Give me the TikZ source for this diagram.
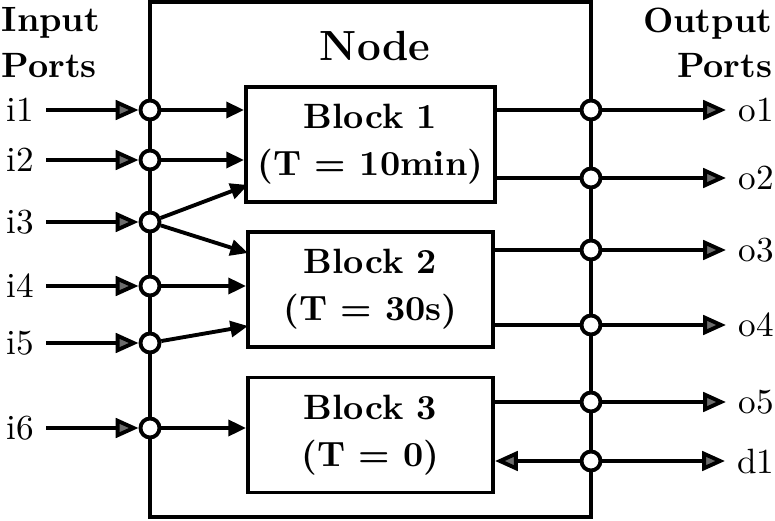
\documentclass[tikz,border=0pt]{standalone}
\usepackage{amsmath}
\usepackage{tikz}
\usetikzlibrary{arrows.meta}

\begin{document}
\begin{tikzpicture}[x = 0.01cm, y = -0.01cm,
    wire/.style = { line width = 1.1pt },
    port/.style = { draw, circle, fill = white, line width = 1.1pt, inner sep = 0pt, minimum size = 0.19cm },
    block/.style = { draw, line width = 1.1pt, minimum width = 2.45cm, minimum height = 1.15cm, align = center, font = \bfseries },
    inarrow/.style = { wire, -{Triangle[length = 6.5pt, width = 5.5pt, fill = gray!85!black]} },
    blkarrow/.style = { wire, -{Triangle[length = 5pt, width = 4.5pt]} }]
    \useasboundingbox (0,0) rectangle (775,521);

    \node [draw, line width = 1.1pt, minimum width = 4.41cm, minimum height = 5.15cm] (frame) at (370.5,259.5) {};
    \node [font = \large\bfseries] (title) at (375,46) {Node};
    \node [anchor = north west, align = left, inner sep = 0pt, font = \bfseries] (inports) at (1,7) {Input \\[1pt] Ports};
    \node [anchor = north east, align = right, inner sep = 0pt, font = \bfseries] (outports) at (773,7) {Output \\[1pt] Ports};

    \node [block] (b1) at (370.5,144.5) { Block 1 \\[1.4pt] (T = 10min) };
    \node [block] (b2) at (370.5,289.5) { Block 2 \\[1.4pt] (T = 30s) };
    \node [block] (b3) at (370.5,435) { Block 3 \\[1.4pt] (T = 0) };

    \foreach \n/\y in {1/110, 2/160, 3/222, 4/286, 5/343, 6/428} {
      \node [port] (pi\n) at (150,\y) {};
      \node (li\n) at (20,\y) {i\n};
      \draw [inarrow] (li\n) -- (pi\n);
    }

    \coordinate (b1i3) at (248,185);
    \coordinate (b2i3) at (248,253);
    \coordinate (b2i5) at (248,326);
    \draw [blkarrow] (pi1) -- (pi1 -| b1.west);
    \draw [blkarrow] (pi2) -- (pi2 -| b1.west);
    \draw [blkarrow] (pi3) -- (b1i3);
    \draw [blkarrow] (pi3) -- (b2i3);
    \draw [blkarrow] (pi4) -- (pi4 -| b2.west);
    \draw [blkarrow] (pi5) -- (b2i5);
    \draw [blkarrow] (pi6) -- (pi6 -| b3.west);

    \foreach \n/\y/\b in {o1/110/b1, o2/178/b1, o3/250/b2, o4/325/b2, o5/402/b3} {
      \node [port] (p\n) at (591,\y) {};
      \node (l\n) at (756,\y) {\n};
      \draw [wire] (\b.east |- p\n) -- (p\n);
      \draw [inarrow] (p\n) -- (l\n);
    }

    \node [port] (pd1) at (591,461) {};
    \node (ld1) at (756,461) {d1};
    \draw [inarrow] (pd1) -- (pd1 -| b3.east);
    \draw [inarrow] (pd1) -- (ld1);
\end{tikzpicture}
\end{document}
